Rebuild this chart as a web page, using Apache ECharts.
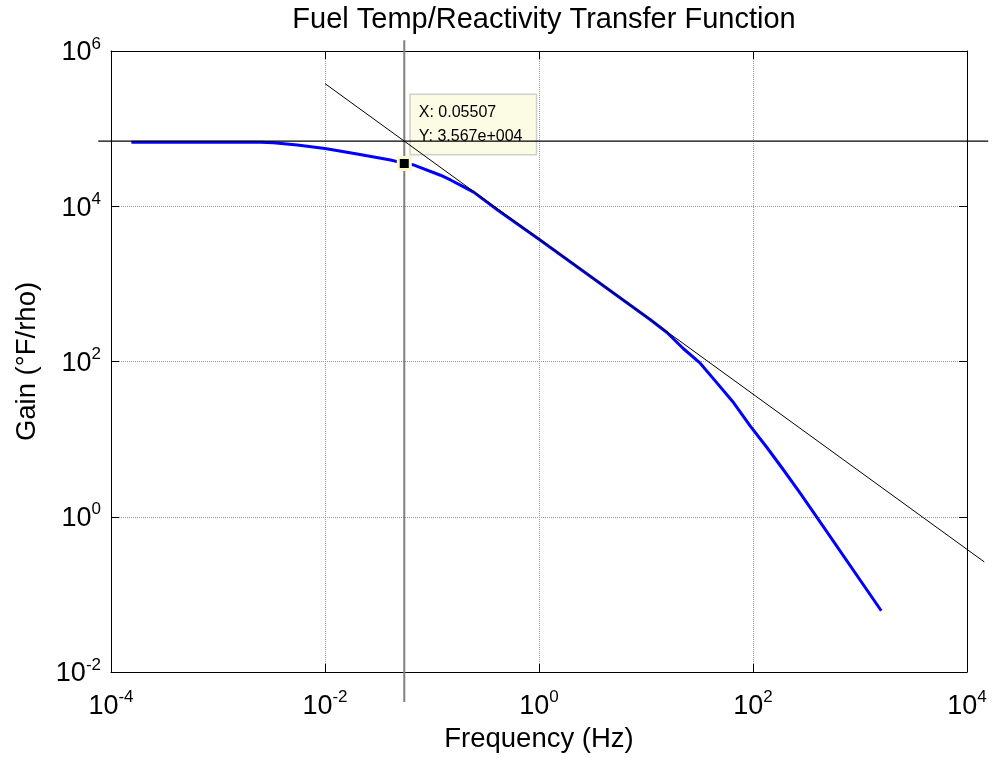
<!DOCTYPE html>
<html>
<head>
<meta charset="utf-8">
<script src="https://cdn.jsdelivr.net/npm/echarts@6/dist/echarts.min.js"></script>
<style>html,body{margin:0;padding:0;background:#fff;}#c{width:993px;height:758px;}</style>
</head>
<body>
<div id="c"></div>
<script>
// Blue transfer-function curve
const freqHz = [1.55e-4, 1e-3, 2.5e-3, 3.3e-3, 5.5e-3, 0.01, 0.02, 0.041, 0.05507, 0.068, 0.12, 0.149, 0.19, 0.245, 0.41, 1, 3.74, 11, 15.7, 22.4, 32.1, 46, 66, 94.4, 135, 193, 277, 396, 1580];
const gain   = [67000, 67000, 66700, 65600, 61400, 55600, 47000, 39400, 35670, 33900, 25100, 21800, 18300, 15200, 8950, 3750, 1010, 345, 236, 146, 95, 53, 29.4, 14.7, 7.8, 4.0, 2.0, 0.98, 0.0615];
// Black -1 slope asymptote
const asymHz = [0.01, 14500];
const asymGain = [380000, 0.262];
// Data cursor crosshair
const cursorHz = 0.05507;
const cursorGain = 35670;
const crossGain = 69000;
const crossVertGain = [1.38e6, 0.00411];
const crossHorzHz = [7.6e-5, 15800];
const cursorText = ['X: 0.05507', 'Y: 3.567e+004'];
// Axis ranges
const xRange = [1e-4, 1e4];
const yRange = [1e-2, 1e6];

const FONT = 'Liberation Sans, Arial, Helvetica, sans-serif';
const tickFmt = function (v) {
  const e = Math.round(Math.log10(v));
  return '{b|10}{s|' + e + '}';
};
const richLbl = {
  b: { fontSize: 27, fontFamily: FONT, color: '#000', lineHeight: 31, verticalAlign: 'bottom' },
  s: { fontSize: 17, fontFamily: FONT, color: '#000', lineHeight: 31, verticalAlign: 'top' }
};

function segmentRender(color, width) {
  return function (params, api) {
    const p1 = api.coord([api.value(0), api.value(1)]);
    const p2 = api.coord([api.value(2), api.value(3)]);
    return {
      type: 'line',
      shape: { x1: p1[0], y1: p1[1], x2: p2[0], y2: p2[1] },
      style: { stroke: color, lineWidth: width, fill: null }
    };
  };
}
function segSeries(name, pts, color, width, z) {
  return {
    type: 'custom', name: name, clip: false, z: z,
    dimensions: ['x1', 'y1', 'x2', 'y2'],
    encode: { x: [0, 2], y: [1, 3] },
    data: [[pts[0][0], pts[0][1], pts[1][0], pts[1][1]]],
    renderItem: segmentRender(color, width),
    silent: true
  };
}

const chart = echarts.init(document.getElementById('c'));
const baseAxis = {
  type: 'log', logBase: 10, interval: 2,
  axisLine: { show: true, lineStyle: { color: '#000', width: 1 } },
  axisTick: { show: true, inside: true, length: 8, lineStyle: { color: '#000' } },
  minorTick: { show: false },
  splitLine: { show: false }
};
chart.setOption({
  animation: false,
  backgroundColor: '#fff',
  title: {
    text: 'Fuel Temp/Reactivity Transfer Function',
    left: 539, top: 0, textAlign: 'center',
    textStyle: { fontSize: 29, fontWeight: 'normal', fontFamily: FONT, color: '#000' }
  },
  grid: { left: 111, right: 26, top: 51, bottom: 85, show: false },
  xAxis: [
    Object.assign({}, baseAxis, {
      position: 'bottom', min: xRange[0], max: xRange[1],
      name: 'Frequency (Hz)', nameLocation: 'middle', nameGap: 53,
      nameTextStyle: { fontSize: 27.5, fontFamily: FONT, color: '#000' },
      axisLabel: { formatter: tickFmt, rich: richLbl, margin: 17, showMinLabel: true, showMaxLabel: true },
      splitLine: { show: true, lineStyle: { color: '#9a9a9a', type: 'dotted', width: 1 } }
    }),
    Object.assign({}, baseAxis, {
      position: 'top', min: xRange[0], max: xRange[1],
      axisLabel: { show: false }
    })
  ],
  yAxis: [
    Object.assign({}, baseAxis, {
      position: 'left', min: yRange[0], max: yRange[1],
      name: 'Gain (°F/rho)', nameLocation: 'middle', nameGap: 70,
      nameTextStyle: { fontSize: 27.5, fontFamily: FONT, color: '#000' },
      axisLabel: { formatter: tickFmt, rich: richLbl, margin: 10, showMinLabel: true, showMaxLabel: true },
      splitLine: { show: true, lineStyle: { color: '#9a9a9a', type: 'dotted', width: 1 } }
    }),
    Object.assign({}, baseAxis, {
      position: 'right', min: yRange[0], max: yRange[1],
      axisLabel: { show: false }
    })
  ],
  series: [
    {
      type: 'line', name: 'gain', data: freqHz.map((f, i) => [f, gain[i]]),
      showSymbol: false, symbol: 'none', z: 3,
      lineStyle: { color: '#0000ff', width: 3, join: 'round' }
    },
    segSeries('asymptote', asymHz.map((f, i) => [f, asymGain[i]]), '#000', 1, 6),
    segSeries('crossV', crossVertGain.map(g => [cursorHz, g]), '#808080', 2, 2),
    segSeries('crossH', crossHorzHz.map(f => [f, crossGain]), '#000', 1.3, 6),
    {
      type: 'scatter', name: 'cursor', data: [[cursorHz, cursorGain]], z: 4,
      symbol: 'rect', symbolSize: 12,
      itemStyle: { color: '#000', borderColor: '#fbf8d0', borderWidth: 3, opacity: 1 },
      label: {
        show: true, position: [14, -61], align: 'left', verticalAlign: 'top',
        formatter: cursorText.join('\n'),
        fontSize: 16, fontFamily: FONT, color: '#000', lineHeight: 24,
        backgroundColor: '#fcfce4', borderColor: '#cfcfcf', borderWidth: 1.5,
        padding: [6, 9, 5, 8], width: 108
      }
    }
  ]
});
</script>
</body>
</html>
